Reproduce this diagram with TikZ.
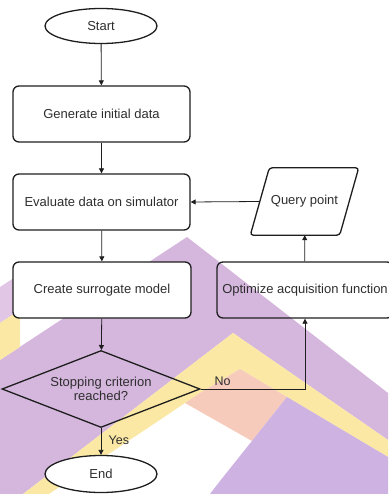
\documentclass[tikz,border=0pt]{standalone}
\usepackage{fontspec}
\setmainfont{Liberation Sans}
\usetikzlibrary{shapes.geometric,arrows.meta,calc}
\definecolor{bgpurple}{HTML}{D5B7DE}
\definecolor{bgpink}{HTML}{E2C6E5}
\definecolor{bgyellow}{HTML}{FBE8A5}
\definecolor{bgsalmon}{HTML}{F6CBBB}
\definecolor{bgblock}{HTML}{CDB2E2}
\definecolor{ink}{HTML}{1E1E1E}
\definecolor{txt}{HTML}{2E2E2E}
\begin{document}
\begin{tikzpicture}[x=1pt,y=-1pt,
  every node/.style={font=\fontsize{13}{14}\selectfont, text=txt},
  procbox/.style={draw=ink, line width=1.3pt, rounded corners=6pt, minimum width=177pt, minimum height=56pt},
  term/.style={draw=ink, line width=1.3pt, ellipse, fill=white, minimum width=112pt, inner sep=0pt},
  flow/.style={draw=ink, line width=0.8pt, -{Triangle[width=5pt,length=5pt]}},
  lbl/.style={font=\fontsize{12.5}{14}\selectfont}]
\useasboundingbox (0,0) rectangle (388,494);
% background watermark shapes
\fill[bgpurple] (187,237) -- (388,393) -- (388,440) -- (233,333) -- (23,494) -- (0,494) -- (0,360) -- cycle;
\fill[bgpink] (0,287) -- (20,274) -- (20,310) -- (0,323) -- cycle;
\fill[bgyellow] (0,323) -- (20,310) -- (20,347) -- (0,360) -- cycle;
\fill[bgyellow] (233,333) -- (388,440) -- (388,457) -- (287,397) -- (240,369) -- (200,393) -- (49,494) -- (23,494) -- cycle;
\fill[bgsalmon] (240,369) -- (287,397) -- (252,441) -- (185,403) -- (200,393) -- cycle;
\fill[bgblock] (287,397) -- (388,457) -- (388,494) -- (210,494) -- (220,481) -- cycle;
% nodes
\node[term, minimum height=35pt] (start) at (101,26) {Start};
\node[procbox] (gen) at (101.5,114) {Generate initial data};
\node[procbox] (eval) at (101.5,202) {Evaluate data on simulator};
\node[procbox, fill=white, minimum width=178pt] (create) at (102,290) {Create surrogate model};
\node[procbox, minimum width=176pt, inner sep=1pt] (opt) at (305,290) {Optimize acquisition function};
\node[minimum width=89pt, minimum height=67pt, inner sep=0pt] (query) at (304.5,201.5) {Query point};
\draw[ink, line width=1.3pt, rounded corners=3pt]
  ($(query.north west)+(9.5,0)$) -- ($(query.north east)+(9.5,0)$) --
  ($(query.south east)+(-9.5,0)$) -- ($(query.south west)+(-9.5,0)$) -- cycle;
\node[diamond, draw=ink, line width=1.3pt, aspect=2.57, inner sep=0pt, minimum width=198pt, minimum height=77pt, align=center] (dec) at (101,389) {Stopping criterion\\reached?};
\node[term, minimum height=37pt] (end) at (101,474) {End};
% connectors
\draw[flow] (start) -- (gen);
\draw[flow] (gen) -- (eval);
\draw[flow] (eval) -- (create);
\draw[flow] (create) -- (dec);
\draw[flow] (dec) -- node[lbl, right, pos=0.45, xshift=4pt] {Yes} (end);
\draw[flow] (dec.east) -| node[lbl, above, pos=0.105] {No} (opt.south);
\draw[flow] (opt) -- (query);
\draw[flow] (query.west) -- (eval.east);
\end{tikzpicture}
\end{document}
